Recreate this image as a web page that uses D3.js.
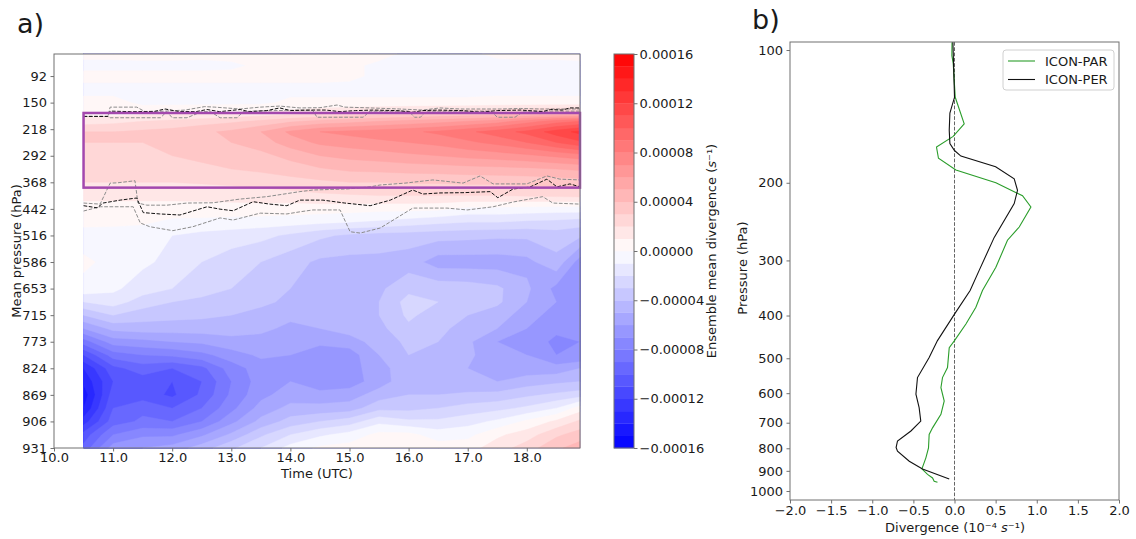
<!DOCTYPE html>
<html>
<head>
<meta charset="utf-8">
<script src="https://cdn.jsdelivr.net/npm/d3@7"></script>
<style>
  body { margin: 0; background: #fff; }
  text { font-family: "DejaVu Sans", sans-serif; fill: #1a1a1a; }
</style>
</head>
<body>
<div id="chart"></div>
<script>
// ---- panel a data ----
// times of the field columns (UTC hours)
const times = [10.5, 11.0, 11.5, 12.0, 12.5, 13.0, 13.5, 14.0, 14.5, 15.0, 15.5, 16.0, 16.5, 17.0, 17.5, 18.0, 18.5, 18.9];
// model level position of the field rows (0 = first labelled level)
const rowLevels = [-0.83, -0.4, 0, 0.5, 1.0, 1.35, 1.7, 2.1, 2.5, 3.0, 3.5, 4.0, 4.5, 5.0, 5.5, 6.0,
                   7.0, 8.0, 8.5, 9.0, 9.5, 10.0, 10.5, 11.0, 11.5, 12.0, 12.5, 13.0, 13.5, 14.0];
// mean pressure labels of the levels 0..14
const levelLabels = [92, 150, 218, 292, 368, 442, 516, 586, 653, 715, 773, 824, 869, 906, 931];

// ensemble mean divergence, units of 1e-5 s-1, one row per rowLevels entry
const divField = [
  [0.3, 0.3, 0.4, 0.4, 0.3, 0.4, 0.4, 0.3, 0.3, 0.3, 0.3, -0.2, -0.2, -0.2, 0.2, 0.3, 0.3, 0.3],
  [-0.3, -0.3, -0.3, -0.3, -0.3, -0.2, 0.2, 0.3, 0.3, 0.2, -0.2, -0.3, -0.3, -0.3, -0.3, -0.3, -0.3, -0.2],
  [0.3, 0.3, 0.3, 0.3, 0.3, 0.3, 0.3, 0.3, 0.3, 0.2, -0.2, -0.3, -0.3, -0.3, -0.3, -0.3, -0.3, -0.3],
  [-0.3, -0.3, -0.3, -0.3, -0.3, -0.3, -0.3, -0.3, -0.3, -0.3, -0.3, -0.3, -0.3, -0.3, -0.3, -0.3, -0.3, -0.3],
  [0.3, 0.3, -0.2, -0.2, -0.2, -0.2, -0.2, 0.2, 0.2, 0.2, 0.2, 0.2, 0.2, 0.2, 0.3, 0.3, 0.3, 0.3],
  [0.3, 0.4, 0.5, 0.6, 0.7, 0.8, 1.0, 1.2, 1.5, 1.8, 2.0, 2.2, 2.4, 2.6, 2.8, 3.0, 3.2, 3.4],
  [1.5, 1.7, 2.0, 2.2, 2.5, 2.8, 3.2, 3.8, 4.3, 4.6, 5.0, 5.3, 5.6, 6.0, 6.5, 7.5, 8.5, 9.0],
  [3.0, 3.0, 3.2, 3.4, 3.8, 4.2, 5.0, 6.2, 7.0, 7.3, 7.5, 7.8, 8.2, 8.8, 9.5, 10.3, 11.5, 12.3],
  [3.0, 3.0, 3.0, 3.2, 3.6, 4.0, 4.5, 5.5, 6.2, 6.5, 6.8, 7.0, 7.3, 7.8, 8.3, 9.0, 10.0, 10.8],
  [2.8, 2.8, 2.8, 3.0, 3.2, 3.4, 3.7, 4.3, 5.0, 5.3, 5.5, 5.8, 6.0, 6.3, 6.5, 6.8, 7.2, 7.6],
  [2.5, 2.5, 2.5, 2.7, 2.8, 3.0, 3.2, 3.5, 3.9, 4.2, 4.3, 4.4, 4.5, 4.6, 4.7, 4.8, 5.0, 5.2],
  [2.0, 2.0, 2.0, 2.0, 2.1, 2.2, 2.4, 2.6, 2.8, 3.0, 3.0, 3.1, 3.1, 3.2, 3.2, 3.3, 3.4, 3.5],
  [1.2, 1.2, 1.2, 1.2, 1.3, 1.4, 1.5, 1.6, 1.8, 1.9, 2.0, 2.0, 2.0, 2.0, 2.0, 2.1, 2.2, 2.3],
  [0.7, 0.7, 0.7, 0.7, 0.6, 0.6, 0.6, 0.5, 0.5, 0.4, 0.3, 0.3, 0.2, -0.3, -0.3, -0.4, -0.5, -0.5],
  [0.3, 0.3, 0.2, -0.3, -0.3, -0.4, -0.5, -0.6, -0.8, -1.0, -1.2, -1.5, -1.8, -2.0, -2.0, -2.2, -2.3, -2.5],
  [-0.5, -0.6, -0.8, -1.0, -1.3, -1.5, -1.7, -2.2, -2.8, -3.2, -3.4, -3.5, -3.6, -3.7, -3.8, -3.8, -3.5, -3.8],
  [0.2, -0.3, -0.8, -1.3, -2.0, -2.5, -3.0, -3.6, -4.2, -4.3, -4.3, -4.5, -5.5, -5.5, -5.5, -5.3, -4.3, -6.5],
  [-0.3, -0.8, -1.5, -2.0, -2.5, -3.0, -3.3, -4.0, -4.5, -4.6, -4.2, -3.3, -3.4, -3.5, -3.8, -4.8, -6.3, -6.8],
  [-2.0, -1.5, -2.5, -3.0, -3.3, -3.5, -3.8, -4.2, -4.6, -4.6, -4.0, -2.6, -3.0, -3.6, -3.8, -5.0, -6.0, -6.5],
  [-4.0, -3.0, -3.5, -3.7, -3.8, -4.0, -4.3, -4.8, -4.8, -4.6, -4.0, -2.8, -3.5, -4.0, -4.5, -5.5, -6.5, -6.5],
  [-6.0, -4.7, -4.5, -4.5, -4.5, -4.6, -4.8, -5.2, -5.0, -4.5, -4.3, -3.2, -3.8, -4.3, -5.0, -6.0, -6.8, -6.8],
  [-8.5, -6.5, -6.3, -6.0, -5.8, -5.3, -5.3, -5.8, -5.8, -5.5, -4.5, -3.8, -4.0, -4.8, -6.0, -6.5, -7.2, -7.0],
  [-11.0, -8.5, -8.0, -7.8, -7.3, -6.5, -5.8, -6.0, -6.5, -6.5, -5.0, -4.0, -4.3, -4.8, -5.6, -6.0, -7.0, -7.0],
  [-13.0, -10.3, -9.5, -10.0, -9.3, -7.5, -6.5, -6.3, -6.5, -6.5, -5.3, -4.5, -4.6, -5.0, -5.3, -5.6, -5.6, -5.0],
  [-13.8, -11.0, -10.5, -11.0, -10.0, -8.0, -6.5, -6.0, -6.8, -6.5, -5.5, -4.3, -4.6, -4.8, -5.0, -4.5, -4.2, -4.0],
  [-14.6, -10.5, -10.5, -11.2, -9.8, -7.8, -6.3, -5.5, -5.6, -5.5, -4.5, -4.0, -4.0, -3.8, -3.7, -3.2, -2.8, -2.5],
  [-14.0, -10.0, -9.3, -10.0, -9.0, -7.3, -5.6, -4.7, -4.7, -4.5, -3.3, -3.3, -3.0, -2.6, -2.3, -1.8, -1.0, 0.5],
  [-12.5, -9.5, -8.8, -9.0, -8.0, -6.3, -4.7, -3.6, -3.0, -2.5, -1.3, -1.8, -1.8, -1.4, -0.8, 0.2, 1.2, 2.2],
  [-10.6, -8.0, -7.2, -7.2, -6.2, -4.8, -3.2, -2.0, -1.2, -0.6, 0.3, 0.3, -0.5, -0.3, 0.8, 1.5, 2.8, 3.5],
  [-9.7, -6.5, -6.0, -5.6, -4.5, -3.2, -2.0, -0.6, 0.2, 0.4, 0.5, 0.6, 0.5, 0.6, 1.5, 2.5, 3.8, 4.5]
];

// dashed level lines (time, level position)
const blackTopT = [10.5, 10.91, 10.95, 11.3, 11.7, 11.88, 12.1, 12.4, 12.59, 12.8, 13.15, 13.3, 13.6, 13.82, 14.0, 14.3, 14.6, 14.84, 15.1, 15.4, 15.8, 16.07, 16.24, 16.5, 16.9, 17.21, 17.5, 17.9, 18.27, 18.4, 18.6, 18.73, 18.9];
const blackTopL = [1.52, 1.52, 1.32, 1.34, 1.33, 1.24, 1.33, 1.34, 1.26, 1.34, 1.26, 1.34, 1.30, 1.20, 1.30, 1.28, 1.28, 1.34, 1.30, 1.28, 1.30, 1.36, 1.30, 1.28, 1.30, 1.36, 1.30, 1.28, 1.34, 1.26, 1.28, 1.20, 1.20];
const grayTopT = [10.5, 10.91, 10.95, 11.4, 11.54, 11.88, 12.22, 12.55, 12.72, 13.15, 13.49, 13.82, 14.16, 14.5, 14.79, 14.92, 15.23, 15.85, 16.24, 16.53, 16.87, 17.21, 17.55, 17.89, 18.22, 18.56, 18.9];
const grayTopL = [1.52, 1.52, 1.17, 1.17, 1.34, 1.32, 1.28, 1.15, 1.17, 1.24, 1.17, 1.13, 1.20, 1.19, 1.09, 1.17, 1.19, 1.24, 1.28, 1.20, 1.24, 1.24, 1.24, 1.22, 1.24, 1.24, 1.24];
const grayTop2T = [10.5, 10.91, 10.95, 11.8, 11.91, 12.0, 12.25, 12.5, 12.65, 12.81, 13.1, 13.2, 13.37, 14.16, 14.38, 14.45, 15.23, 15.35, 16.0, 16.1, 16.2, 16.3, 17.4, 17.5, 17.8, 17.95, 18.9];
const grayTop2L = [1.52, 1.52, 1.57, 1.57, 1.34, 1.57, 1.57, 1.34, 1.34, 1.57, 1.57, 1.34, 1.32, 1.28, 1.30, 1.55, 1.55, 1.32, 1.32, 1.55, 1.55, 1.32, 1.32, 1.55, 1.55, 1.32, 1.32];

const blackLowT = [10.5, 10.73, 10.83, 11.12, 11.40, 11.51, 11.79, 12.13, 12.59, 12.81, 13.03, 13.37, 13.65, 13.94, 14.16, 14.55, 14.92, 15.35, 15.69, 16.07, 16.24, 16.53, 16.92, 17.38, 17.51, 17.77, 18.05, 18.34, 18.51, 18.73, 18.9];
const blackLowL = [4.88, 4.96, 4.78, 4.67, 4.59, 5.14, 5.19, 5.23, 4.92, 5.01, 5.07, 4.73, 4.82, 4.88, 4.67, 4.67, 4.78, 4.88, 4.67, 4.29, 4.44, 4.40, 4.39, 4.35, 4.58, 4.25, 4.18, 3.88, 4.17, 4.06, 4.17];
const grayLowT = [10.5, 10.78, 10.95, 11.07, 11.37, 11.42, 11.57, 11.91, 12.25, 12.69, 13.15, 13.6, 14.16, 14.38, 14.96, 15.35, 15.52, 15.94, 16.41, 16.92, 17.21, 17.43, 18.0, 18.34, 18.56, 18.9];
const grayLowL = [4.78, 4.82, 4.03, 4.02, 3.94, 4.78, 4.86, 4.86, 4.78, 4.77, 4.63, 4.54, 4.35, 4.29, 4.25, 4.17, 4.10, 4.03, 3.91, 4.03, 3.76, 4.06, 4.06, 3.76, 3.88, 3.91];
const grayLow2T = [10.5, 10.78, 11.34, 11.46, 11.62, 12.01, 12.35, 12.81, 13.03, 13.49, 13.94, 14.16, 14.38, 14.84, 15.01, 15.18, 15.52, 16.07, 16.65, 16.99, 17.43, 17.77, 18.27, 18.44, 18.9];
const grayLow2L = [5.08, 4.92, 4.92, 5.53, 5.67, 5.82, 5.67, 5.34, 5.42, 5.16, 5.19, 5.11, 5.04, 5.04, 5.86, 5.91, 5.72, 4.97, 4.97, 5.04, 4.92, 4.74, 4.54, 4.78, 4.82];

// highlighted layer (time range, level range)
const boxTimes = [10.5, 18.9];
const boxLevels = [1.39, 4.2];

// ---- panel b data ----
const parPres = [96, 103, 107, 128, 147, 157, 166, 176, 187, 200, 214, 227, 252, 270, 311, 351, 383, 418, 456, 473, 525, 553, 583, 625, 670, 719, 744, 798, 841, 891, 917, 934, 950, 955];
const parDiv = [-0.03, -0.032, -0.016, 0.009, 0.118, -0.016, -0.219, -0.195, 0.017, 0.503, 0.827, 0.929, 0.787, 0.644, 0.503, 0.34, 0.26, 0.139, 0.0, -0.064, -0.085, -0.146, -0.165, -0.125, -0.165, -0.267, -0.308, -0.316, -0.348, -0.396, -0.328, -0.267, -0.247, -0.207];
const perPres = [95, 128, 139, 152, 163, 169, 174, 184, 196, 208, 223, 266, 316, 351, 397, 456, 498, 553, 603, 647, 694, 731, 770, 797, 812, 856, 891, 939];
const perDiv = [-0.02, 0.0, -0.056, -0.064, -0.056, 0.0, 0.078, 0.50, 0.726, 0.766, 0.726, 0.483, 0.30, 0.19, 0.0, -0.207, -0.308, -0.45, -0.469, -0.43, -0.41, -0.53, -0.693, -0.71, -0.693, -0.55, -0.389, -0.064];
const pressureTicks = [100, 200, 300, 400, 500, 600, 700, 800, 900, 1000];
const divTicks = [-2.0, -1.5, -1.0, -0.5, 0.0, 0.5, 1.0, 1.5, 2.0];

const width = 1136, height = 539;
const spine = "#707070";

const svg = d3.select("#chart").append("svg")
    .attr("width", width)
    .attr("height", height);

// scales
const xA = d3.scaleLinear().domain([10, 18.9]).range([54, 580]);
const yA = d3.scaleLinear().domain([-0.83, 14]).range([54, 448]);
const yC = d3.scaleLinear().domain([-16e-5, 16e-5]).range([448, 54]);
const bwr = d3.scaleLinear().domain([-16, 0, 16]).range(["#0000ff", "#ffffff", "#ff0000"]);
const xB = d3.scaleLinear().domain([-2, 2]).range([790, 1119]);
const yB = d3.scaleLog().domain([95.9, 1048]).range([42, 500]);

// grid coordinate -> data value (piecewise linear over the sample positions)
function fromGrid(c, arr) {
    let g = Math.max(0, Math.min(arr.length - 1, c - 0.5));
    let i = Math.min(Math.floor(g), arr.length - 2);
    return arr[i] + (g - i) * (arr[i + 1] - arr[i]);
}

// ---- panel a: filled contours ----
const nx = times.length, ny = rowLevels.length;
const flat = [].concat(...divField);
const thresholds = d3.range(-16, 16, 1);
const contours = d3.contours()
    .size([nx, ny])
    .thresholds(thresholds)(flat);

const gridPath = d3.geoPath(d3.geoTransform({
    point: function (x, y) {
        this.stream.point(xA(fromGrid(x, times)), yA(fromGrid(y, rowLevels)));
    }
}));

const fieldGroup = svg.append("g");
fieldGroup.selectAll("path")
    .data(contours.filter(c => c.coordinates.length))
    .enter().append("path")
    .attr("d", gridPath)
    .attr("fill", d => bwr(d.value + 0.5))
    .attr("stroke", d => bwr(d.value + 0.5))
    .attr("stroke-width", 0.4);

// dashed lines
const lineA = d3.line().x(d => xA(d[0])).y(d => yA(d[1]));
const dashed = [
    { t: grayTopT, l: grayTopL, c: "#8c8c8c" },
    { t: grayTop2T, l: grayTop2L, c: "#8c8c8c" },
    { t: grayLowT, l: grayLowL, c: "#8c8c8c" },
    { t: grayLow2T, l: grayLow2L, c: "#8c8c8c" },
    { t: blackTopT, l: blackTopL, c: "#111" },
    { t: blackLowT, l: blackLowL, c: "#111" }
];
svg.append("g").selectAll("path")
    .data(dashed)
    .enter().append("path")
    .attr("d", d => lineA(d.t.map((t, i) => [t, d.l[i]])))
    .attr("fill", "none")
    .attr("stroke", d => d.c)
    .attr("stroke-width", 1)
    .attr("stroke-dasharray", "3.7,1.6");

// highlighted box
svg.append("rect")
    .attr("x", xA(boxTimes[0]))
    .attr("y", yA(boxLevels[0]))
    .attr("width", xA(boxTimes[1]) - xA(boxTimes[0]))
    .attr("height", yA(boxLevels[1]) - yA(boxLevels[0]))
    .attr("fill", "none")
    .attr("stroke", "#a348ae")
    .attr("stroke-width", 2.5);

// frame + axes a
svg.append("rect")
    .attr("x", 54).attr("y", 54).attr("width", 526).attr("height", 394)
    .attr("fill", "none").attr("stroke", spine).attr("stroke-width", 1);

function styleAxis(g) {
    g.select(".domain").remove();
    g.selectAll(".tick line").attr("stroke", spine);
    g.selectAll(".tick text").attr("font-size", 13).attr("fill", "#1a1a1a")
        .attr("font-family", "DejaVu Sans, sans-serif");
}

svg.append("g")
    .attr("transform", "translate(54,0)")
    .call(d3.axisLeft(yA).tickValues(d3.range(levelLabels.length))
        .tickFormat(i => levelLabels[i]).tickSize(3.5).tickPadding(3.5))
    .call(styleAxis);

svg.append("g")
    .attr("transform", "translate(0,448)")
    .call(d3.axisBottom(xA).tickValues(d3.range(10, 19, 1))
        .tickFormat(d3.format(".1f")).tickSize(3.5).tickPadding(1.5))
    .call(styleAxis);

svg.append("text")
    .attr("transform", "translate(21,251) rotate(-90)")
    .attr("text-anchor", "middle")
    .attr("font-size", 13)
    .text("Mean pressure (hPa)");

svg.append("text")
    .attr("x", 317).attr("y", 478)
    .attr("text-anchor", "middle")
    .attr("font-size", 13)
    .text("Time (UTC)");

svg.append("text")
    .attr("x", 17).attr("y", 33)
    .attr("font-size", 27)
    .text("a)");

// ---- colorbar ----
const cbX = 614, cbW = 20;
svg.append("g").selectAll("rect")
    .data(thresholds)
    .enter().append("rect")
    .attr("x", cbX)
    .attr("y", d => yC((d + 1) * 1e-5))
    .attr("width", cbW)
    .attr("height", d => yC(d * 1e-5) - yC((d + 1) * 1e-5) + 0.3)
    .attr("fill", d => bwr(d + 0.5));

svg.append("rect")
    .attr("x", cbX).attr("y", 54).attr("width", cbW).attr("height", 394)
    .attr("fill", "none").attr("stroke", spine).attr("stroke-width", 1);

svg.append("g")
    .attr("transform", `translate(${cbX + cbW},0)`)
    .call(d3.axisRight(yC).tickValues(d3.range(-16e-5, 16.1e-5, 4e-5))
        .tickFormat(d3.format(".5f")).tickSize(3.5).tickPadding(2))
    .call(styleAxis);

const cbLabel = svg.append("text")
    .attr("transform", "translate(716,251) rotate(-90)")
    .attr("text-anchor", "middle")
    .attr("font-size", 13);
cbLabel.append("tspan").text("Ensemble mean divergence (");
cbLabel.append("tspan").attr("font-style", "italic").text("s");
cbLabel.append("tspan").text("⁻¹)");

// ---- panel b ----
svg.append("line")
    .attr("x1", xB(0)).attr("x2", xB(0))
    .attr("y1", 42).attr("y2", 500)
    .attr("stroke", "#666").attr("stroke-width", 1)
    .attr("stroke-dasharray", "3.7,1.6");

const lineB = d3.line().x(d => xB(d[0])).y(d => yB(d[1]));
svg.append("clipPath").attr("id", "clipB")
    .append("rect").attr("x", 790).attr("y", 42).attr("width", 329).attr("height", 458);

svg.append("path")
    .attr("d", lineB(parDiv.map((v, i) => [v, parPres[i]])))
    .attr("clip-path", "url(#clipB)")
    .attr("fill", "none").attr("stroke", "#2a9d2a").attr("stroke-width", 1.1);

svg.append("path")
    .attr("d", lineB(perDiv.map((v, i) => [v, perPres[i]])))
    .attr("clip-path", "url(#clipB)")
    .attr("fill", "none").attr("stroke", "#111").attr("stroke-width", 1.1);

svg.append("rect")
    .attr("x", 790).attr("y", 42).attr("width", 329).attr("height", 458)
    .attr("fill", "none").attr("stroke", spine).attr("stroke-width", 1);

svg.append("g")
    .attr("transform", "translate(790,0)")
    .call(d3.axisLeft(yB).tickValues(pressureTicks)
        .tickFormat(d3.format("d")).tickSize(3.5).tickPadding(3.5))
    .call(styleAxis);

svg.append("g")
    .attr("transform", "translate(0,500)")
    .call(d3.axisBottom(xB).tickValues(divTicks)
        .tickFormat(d3.format(".1f")).tickSize(3.5).tickPadding(2))
    .call(styleAxis);

svg.append("text")
    .attr("transform", "translate(747,268) rotate(-90)")
    .attr("text-anchor", "middle")
    .attr("font-size", 13)
    .text("Pressure (hPa)");

const xbLabel = svg.append("text")
    .attr("x", 955).attr("y", 532)
    .attr("text-anchor", "middle")
    .attr("font-size", 13);
xbLabel.append("tspan").text("Divergence (10⁻⁴ ");
xbLabel.append("tspan").attr("font-style", "italic").text("s");
xbLabel.append("tspan").text("⁻¹)");

svg.append("text")
    .attr("x", 752).attr("y", 29)
    .attr("font-size", 27)
    .text("b)");

// legend
const legend = svg.append("g").attr("transform", "translate(1003,50)");
legend.append("rect")
    .attr("width", 111).attr("height", 40).attr("rx", 3)
    .attr("fill", "#fff").attr("fill-opacity", 0.8)
    .attr("stroke", "#d0d0d0");
const legendItems = [
    { name: "ICON-PAR", color: "#2a9d2a" },
    { name: "ICON-PER", color: "#111" }
];
legendItems.forEach((d, i) => {
    legend.append("line")
        .attr("x1", 5).attr("x2", 32)
        .attr("y1", 11 + i * 18.5).attr("y2", 11 + i * 18.5)
        .attr("stroke", d.color).attr("stroke-width", 1.1);
    legend.append("text")
        .attr("x", 42).attr("y", 15.5 + i * 18.5)
        .attr("font-size", 13)
        .text(d.name);
});
</script>
</body>
</html>
